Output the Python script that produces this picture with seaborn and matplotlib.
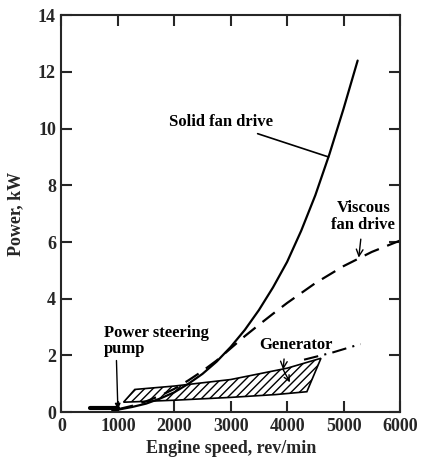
import matplotlib
matplotlib.use("Agg")
import matplotlib.pyplot as plt
import seaborn as sns
import pandas as pd

# Data
solid_rpm = [900, 1250, 1500, 1750, 2000, 2250, 2500, 2750, 3000, 3250, 3500,
             3750, 4000, 4250, 4500, 4750, 5000, 5250]
solid_kw = [0.05, 0.18, 0.3, 0.48, 0.7, 1.0, 1.35, 1.78, 2.3, 2.9, 3.6,
            4.4, 5.3, 6.4, 7.65, 9.1, 10.7, 12.4]

visc_rpm = [1000, 1250, 1500, 1750, 2000, 2250, 2500, 2750, 3000, 3250, 3500,
            3750, 4000, 4250, 4500, 4750, 5000, 5250, 5500, 5750, 6000]
visc_kw = [0.1, 0.22, 0.38, 0.58, 0.82, 1.12, 1.45, 1.82, 2.25, 2.68, 3.08,
           3.47, 3.85, 4.2, 4.55, 4.85, 5.15, 5.4, 5.65, 5.85, 6.05]

gen_rpm = [4300, 4800, 5300]
gen_kw = [1.85, 2.1, 2.4]

band_rpm = [1100, 2000, 3000, 3800, 4350, 4600, 4000, 3000, 2000, 1300]
band_kw = [0.35, 0.42, 0.52, 0.62, 0.72, 1.9, 1.55, 1.15, 0.92, 0.8]

pump_rpm = [500, 1000]
pump_kw = [0.14, 0.14]

x_ticks = [0, 1000, 2000, 3000, 4000, 5000, 6000]
y_ticks = [0, 2, 4, 6, 8, 10, 12, 14]

sns.set_style("ticks")
plt.rcParams['font.family'] = ['Liberation Serif', 'DejaVu Serif']
plt.rcParams['hatch.linewidth'] = 1.0

fig = plt.figure(figsize=(4.21, 4.61), dpi=100)
ax = fig.add_axes([0.146, 0.106, 0.804, 0.861])

df_s = pd.DataFrame({"rpm": solid_rpm, "kw": solid_kw})
df_v = pd.DataFrame({"rpm": visc_rpm, "kw": visc_kw})
df_g = pd.DataFrame({"rpm": gen_rpm, "kw": gen_kw})
df_p = pd.DataFrame({"rpm": pump_rpm, "kw": pump_kw})

ax.fill(band_rpm, band_kw, facecolor="white", edgecolor="black",
        hatch="////", lw=1.2)

sns.lineplot(data=df_s, x="rpm", y="kw", ax=ax, color="black", lw=1.6)
sns.lineplot(data=df_v, x="rpm", y="kw", ax=ax, color="black", lw=1.6,
             linestyle=(0, (7, 4)))
sns.lineplot(data=df_g, x="rpm", y="kw", ax=ax, color="black", lw=1.5,
             linestyle=(0, (7, 3, 1, 3)))
sns.lineplot(data=df_p, x="rpm", y="kw", ax=ax, color="black", lw=3)

ax.set_xlim(0, 6000)
ax.set_ylim(0, 14)
ax.set_xticks(x_ticks)
ax.set_yticks(y_ticks)
ax.set_xticklabels([str(v) for v in x_ticks])
ax.set_yticklabels([str(v) for v in y_ticks])
ax.tick_params(direction="in", length=8, width=1.5, top=True, right=True,
               labelsize=13, pad=4)
for lab in ax.get_xticklabels() + ax.get_yticklabels():
    lab.set_fontweight("bold")
for s in ax.spines.values():
    s.set_linewidth(1.5)
    s.set_visible(True)

ax.set_xlabel("Engine speed, rev/min", fontsize=13, fontweight="bold", labelpad=4)
ax.set_ylabel("Power, kW", fontsize=13, fontweight="bold", labelpad=10)

tkw = dict(fontsize=12, fontweight="bold", color="black")
ax.annotate("Solid fan drive", xy=(4735, 9.0), xytext=(1900, 10.25),
            ha="left", va="center", arrowprops=dict(arrowstyle="-", lw=1.2, color="black",
                                                    shrinkA=2, shrinkB=0), **tkw)
ax.annotate("Viscous\nfan drive", xy=(5270, 5.45), xytext=(5350, 6.9),
            ha="center", va="center", linespacing=1.1,
            arrowprops=dict(arrowstyle="->", lw=1.0, color="black",
                            shrinkA=2, shrinkB=0), **tkw)
ax.annotate("Power steering\npump", xy=(1000, 0.1), xytext=(750, 2.5),
            ha="left", va="center", linespacing=1.0,
            arrowprops=dict(arrowstyle="-|>", lw=1.0, color="black",
                            shrinkA=0, shrinkB=0, mutation_scale=8,
                            relpos=(0.12, 0.0)), **tkw)
ax.annotate("Generator", xy=(3930, 1.5), xytext=(4150, 2.37),
            ha="center", va="center",
            arrowprops=dict(arrowstyle="->", lw=1.0, color="black",
                            shrinkA=2, shrinkB=0, relpos=(0.35, 0.0)), **tkw)
ax.annotate("", xy=(4050, 1.05), xytext=(3930, 1.5),
            arrowprops=dict(arrowstyle="->", lw=1.0, color="black",
                            shrinkA=0, shrinkB=0))

fig.savefig("out.png", dpi=100)
